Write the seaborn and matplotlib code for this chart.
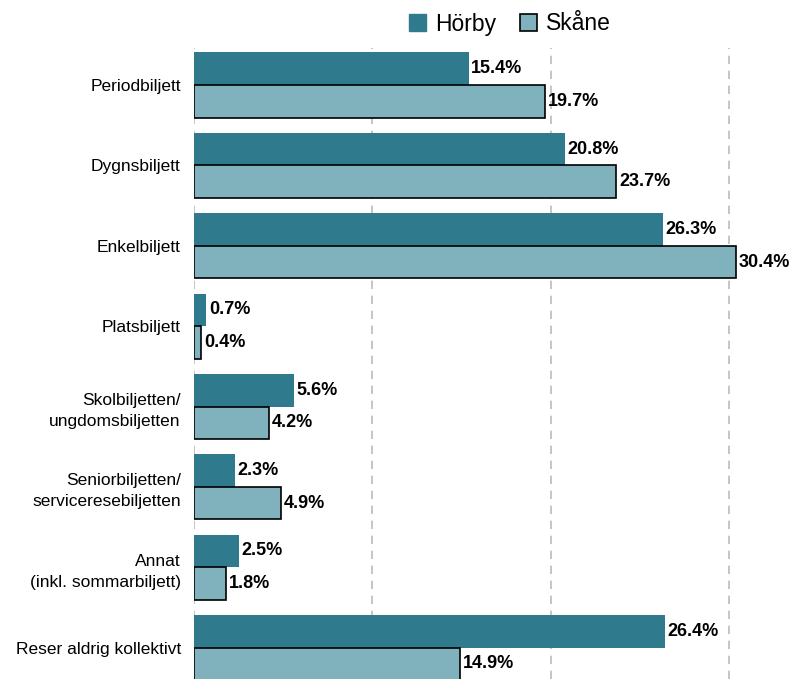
import matplotlib
matplotlib.use("Agg")
import matplotlib.pyplot as plt
import seaborn as sns
import pandas as pd
from matplotlib.patches import Patch

categories = [
    "Periodbiljett",
    "Dygnsbiljett",
    "Enkelbiljett",
    "Platsbiljett",
    "Skolbiljetten/\nungdomsbiljetten",
    "Seniorbiljetten/\nserviceresebiljetten",
    "Annat\n(inkl. sommarbiljett)",
    "Reser aldrig kollektivt",
]
horby = [15.4, 20.8, 26.3, 0.7, 5.6, 2.3, 2.5, 26.4]
skane = [19.7, 23.7, 30.4, 0.4, 4.2, 4.9, 1.8, 14.9]
series = ["Hörby", "Skåne"]
colors = ["#2f7a8c", "#7fb2bc"]

df = pd.DataFrame({
    "kategori": categories * 2,
    "andel": horby + skane,
    "omrade": [series[0]] * len(categories) + [series[1]] * len(categories),
})

sns.set_style("white")
plt.rcParams["font.family"] = ["Liberation Sans", "DejaVu Sans"]
plt.rcParams["text.color"] = "black"
plt.rcParams["ytick.color"] = "black"
plt.rcParams["ytick.labelcolor"] = "black"

fig = plt.figure(figsize=(7.92, 6.79), dpi=100)
ax = fig.add_axes([194 / 792, 0.0, (768 - 194) / 792, 1 - 48 / 679])

sns.barplot(data=df, y="kategori", x="andel", hue="omrade", orient="h",
            palette=colors, width=0.81, ax=ax, legend=False, saturation=1)

# Hörby bars without edge, Skåne bars with black edge
for cont, name in zip(ax.containers, series):
    for bar in cont:
        if name == "Skåne":
            bar.set_edgecolor("black")
            bar.set_linewidth(1.2)
        else:
            bar.set_linewidth(0)
    ax.bar_label(cont, labels=[f"{v:.1f}%" for v in cont.datavalues],
                 padding=2, fontsize=13, fontweight="bold", color="black")

ax.set_xlim(0, 32.2)
ax.set_ylim(7.39, -0.46)
ax.set_xticks([0, 10, 20, 30])
ax.xaxis.grid(True, linestyle=(0, (5, 4)), color="#bbbbbb", linewidth=1.2)
ax.set_axisbelow(True)
ax.tick_params(axis="x", bottom=False, labelbottom=False)
ax.tick_params(axis="y", left=False, labelsize=12.5, pad=6)
for lab in ax.get_yticklabels():
    lab.set_linespacing(1.5)
ax.set_xlabel("")
ax.set_ylabel("")
for s in ax.spines.values():
    s.set_visible(False)

handles = [Patch(facecolor=colors[0], edgecolor=colors[0]),
           Patch(facecolor=colors[1], edgecolor="black", linewidth=1.2)]
fig.legend(handles, series, loc="center", bbox_to_anchor=(510 / 792, 1 - 24 / 679),
           ncol=2, frameon=False, fontsize=16.5, handlelength=0.75, handleheight=0.75,
           columnspacing=1.0, handletextpad=0.4)

fig.savefig("out.png", dpi=100)
